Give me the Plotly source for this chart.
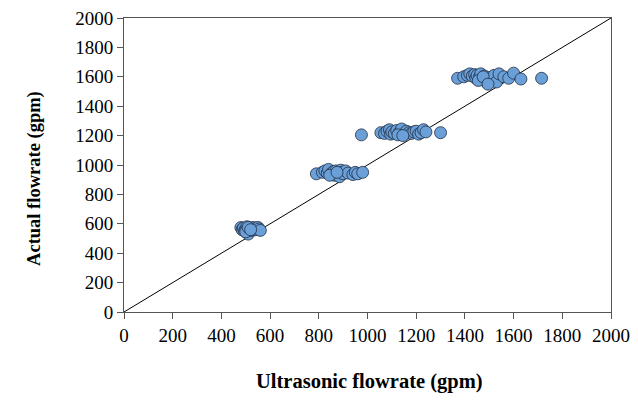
import plotly.graph_objects as go

x_ultrasonic = [480, 485, 490, 495, 500, 505, 510, 515, 520, 525, 530, 535, 540, 545, 550, 555, 560, 500, 510, 520,
                790, 815, 825, 835, 840, 850, 860, 865, 870, 880, 885, 890, 895, 900, 910, 920, 940, 950, 960, 980, 845, 875,
                975, 1055, 1070, 1080, 1090, 1095, 1100, 1110, 1120, 1130, 1140, 1150, 1160, 1170, 1180, 1190, 1200, 1210, 1220, 1230, 1240, 1300, 1125, 1145,
                1370, 1395, 1410, 1420, 1430, 1440, 1445, 1450, 1460, 1465, 1470, 1480, 1490, 1500, 1510, 1520, 1530, 1540, 1560, 1580, 1600, 1630, 1715, 1455, 1475, 1495]
y_actual = [575, 560, 570, 550, 565, 580, 530, 560, 570, 555, 575, 565, 560, 570, 575, 565, 555, 545, 575, 560,
            940, 950, 960, 945, 970, 940, 955, 930, 960, 945, 920, 965, 950, 940, 960, 945, 935, 950, 940, 950, 930, 950,
            1205, 1220, 1215, 1230, 1240, 1210, 1225, 1215, 1235, 1220, 1245, 1210, 1230, 1220, 1215, 1225, 1230, 1210, 1220, 1240, 1225, 1220, 1205, 1200,
            1590, 1600, 1610, 1620, 1605, 1615, 1590, 1610, 1600, 1620, 1585, 1605, 1560, 1595, 1575, 1610, 1565, 1620, 1600, 1590, 1625, 1585, 1590, 1575, 1600, 1550]
line_x = [0, 2000]
line_y = [0, 2000]
ticks = list(range(0, 2001, 200))
x_title = "Ultrasonic flowrate (gpm)"
y_title = "Actual flowrate (gpm)"

font = "Liberation Serif"
fig = go.Figure()
fig.add_trace(go.Scatter(x=line_x, y=line_y, mode="lines",
                         line=dict(color="black", width=1), hoverinfo="skip"))
fig.add_trace(go.Scatter(x=x_ultrasonic, y=y_actual, mode="markers",
                         marker=dict(size=12, color="#6A9FD8",
                                     line=dict(color="#1f2f44", width=0.8))))
axis_common = dict(range=[0, 2000], tickvals=ticks, showgrid=False, zeroline=False,
                   showline=True, linecolor="#555555", linewidth=1, mirror=True,
                   ticks="outside", ticklen=6, tickcolor="#555555", automargin=False,
                   ticklabeloverflow="allow",
                   tickfont=dict(family=font, size=19, color="black"))
fig.update_layout(
    width=630, height=392, showlegend=False,
    plot_bgcolor="white", paper_bgcolor="white",
    margin=dict(l=116, r=27, t=10, b=88),
    xaxis=dict(**axis_common),
    yaxis=dict(**axis_common),
    annotations=[
        dict(text="<b>" + x_title + "</b>", xref="paper", yref="paper",
             x=0.505, y=-0.238, xanchor="center", yanchor="middle", showarrow=False,
             font=dict(family=font, size=20.5, color="black")),
        dict(text="<b>" + y_title + "</b>", xref="paper", yref="paper",
             x=-0.1828, y=0.456, xanchor="center", yanchor="middle", showarrow=False,
             textangle=-90, font=dict(family=font, size=18.5, color="black")),
    ],
)
fig.write_html("out.html")
